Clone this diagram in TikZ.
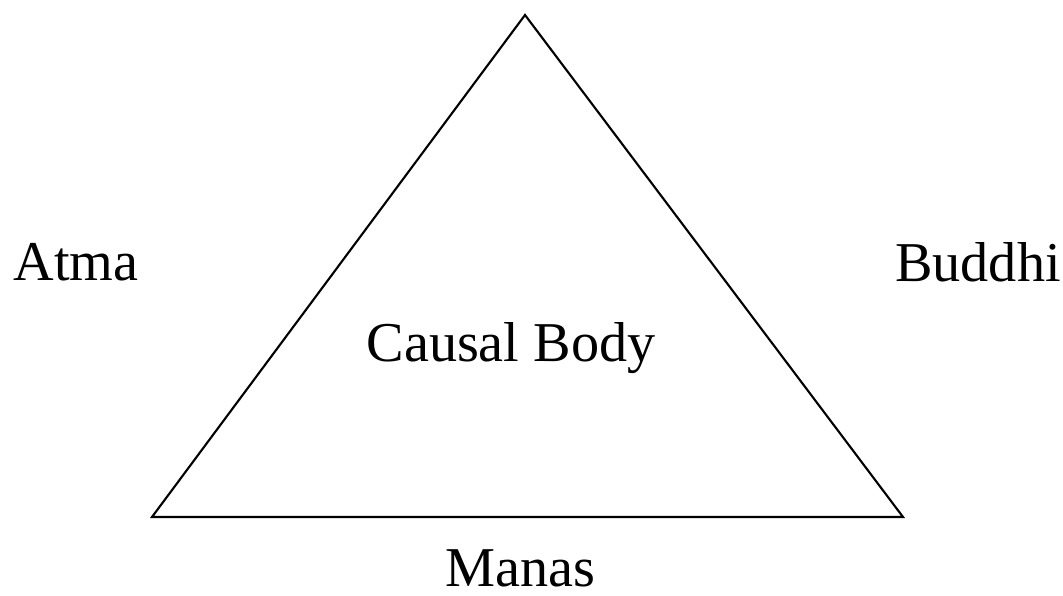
\documentclass[tikz,border=0pt]{standalone}
\usepackage{fontspec}
\setmainfont{Liberation Serif}
\usetikzlibrary{positioning}

\begin{document}
\begin{tikzpicture}[every node/.style={font=\fontsize{16}{19}\selectfont}]
		
		% Frame
		\useasboundingbox (0, 0) rectangle (10.63, 5.95);
		
		% Triangle corners
		\coordinate (apex) at (5.25, 5.80);
		\coordinate (lcorner) at (1.52, 0.78);
		\coordinate (rcorner) at (9.03, 0.78);
		\draw[line width=0.6pt] (apex) -- (lcorner) -- (rcorner) -- cycle;
		
		% Labels
		\node (atma) at (0.76, 3.33) {Atma};
		\node (buddhi) at (9.78, 3.33) {Buddhi};
		\node (causal) at (5.11, 2.47) {Causal Body};
		\node (manas) at (5.20, 0.27) {Manas};
		
	\end{tikzpicture}
\end{document}
